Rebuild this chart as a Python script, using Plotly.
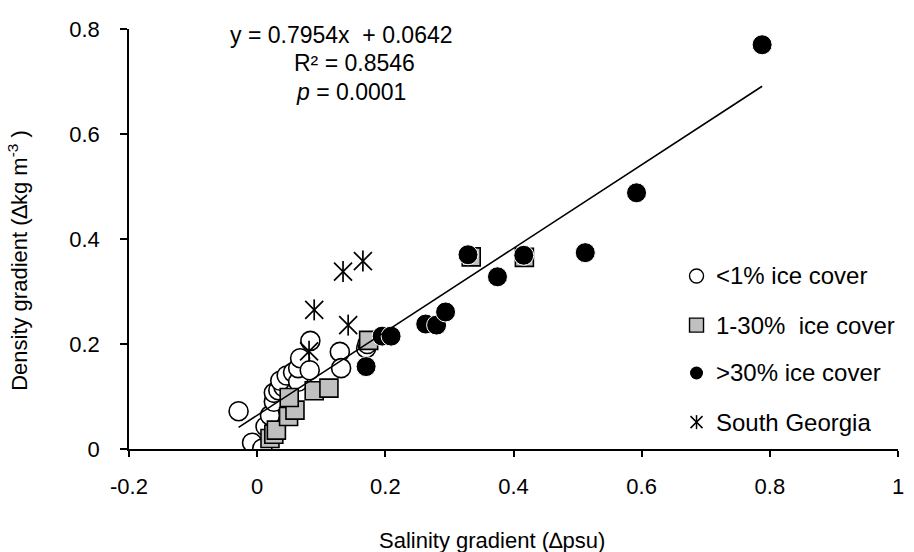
import plotly.graph_objects as go

# Salinity gradient (x) vs density gradient (y), by ice-cover class
low_ice_x = [-0.029, -0.008, 0.008, 0.013, 0.028, 0.020, 0.026, 0.026, 0.033, 0.041, 0.036,
             0.046, 0.056, 0.064, 0.064, 0.067, 0.082, 0.083, 0.129, 0.131, 0.170, 0.172]
low_ice_y = [0.072, 0.012, 0.001, 0.043, 0.049, 0.064, 0.090, 0.107, 0.112, 0.118, 0.130,
             0.140, 0.146, 0.128, 0.154, 0.173, 0.150, 0.206, 0.185, 0.154, 0.192, 0.200]

mid_ice_x = [0.020, 0.026, 0.030, 0.049, 0.059, 0.050, 0.089, 0.112, 0.174, 0.334, 0.417]
mid_ice_y = [0.020, 0.028, 0.036, 0.062, 0.074, 0.098, 0.111, 0.116, 0.207, 0.366, 0.365]

high_ice_x = [0.170, 0.195, 0.209, 0.263, 0.280, 0.294, 0.329, 0.375, 0.416, 0.512, 0.592, 0.788]
high_ice_y = [0.157, 0.215, 0.215, 0.238, 0.236, 0.261, 0.370, 0.328, 0.369, 0.374, 0.488, 0.770]

sg_x = [0.081, 0.089, 0.134, 0.142, 0.165]
sg_y = [0.186, 0.265, 0.338, 0.236, 0.358]

# Linear fit reported on the chart
slope = 0.7954
intercept = 0.0642
r_squared = 0.8546
p_value = "0.0001"

x_ticks = [-0.2, 0, 0.2, 0.4, 0.6, 0.8, 1]
x_tick_text = ["-0.2", "0", "0.2", "0.4", "0.6", "0.8", "1"]
y_ticks = [0, 0.2, 0.4, 0.6, 0.8]
y_tick_text = ["0", "0.2", "0.4", "0.6", "0.8"]

legend_names = ["<1% ice cover", "1-30%  ice cover", ">30% ice cover", "South Georgia"]

FONT = "Liberation Sans, Arial, sans-serif"
W, H = 914, 552
L, R, T, B = 129, 10, 29, 103

fig = go.Figure()

fig.add_trace(go.Scatter(
    x=low_ice_x, y=low_ice_y, mode="markers", name=legend_names[0],
    marker=dict(symbol="circle", size=19, color="white", line=dict(color="black", width=1.6)),
))
fig.add_trace(go.Scatter(
    x=mid_ice_x, y=mid_ice_y, mode="markers", name=legend_names[1],
    marker=dict(symbol="square", size=18, color="#c0c0c0", line=dict(color="black", width=1.6)),
))
fig.add_trace(go.Scatter(
    x=high_ice_x, y=high_ice_y, mode="markers", name=legend_names[2],
    marker=dict(symbol="circle", size=20, color="black", line=dict(color="white", width=1)),
))
# Six-armed star: diagonal cross plus a vertical stroke
fig.add_trace(go.Scatter(
    x=sg_x, y=sg_y, mode="markers", name=legend_names[3],
    marker=dict(symbol="x-thin-open", size=18, color="black", line=dict(color="black", width=1.7)),
))
fig.add_trace(go.Scatter(
    x=sg_x, y=sg_y, mode="markers", showlegend=False,
    marker=dict(symbol="line-ns-open", size=15, color="black", line=dict(color="black", width=1.7)),
))

# Trend line across the range of all observations
all_x = low_ice_x + mid_ice_x + high_ice_x + sg_x
fit_x = [min(all_x), max(all_x)]
fit_y = [slope * v + intercept for v in fit_x]
fig.add_trace(go.Scatter(
    x=fit_x, y=fit_y, mode="lines", showlegend=False,
    line=dict(color="black", width=1.6),
))

# Hand-placed legend on an overlay axis in paper units
leg_x = 0.738
leg_y = [0.412, 0.295, 0.181, 0.064]
legend_markers = [
    dict(symbol="circle", size=14, color="white", line=dict(color="black", width=1.4)),
    dict(symbol="square", size=14, color="#c0c0c0", line=dict(color="black", width=1.4)),
    dict(symbol="circle", size=13, color="black", line=dict(color="white", width=0)),
]
for yy, mk in zip(leg_y[:3], legend_markers):
    fig.add_trace(go.Scatter(x=[leg_x], y=[yy], mode="markers", marker=mk,
                             xaxis="x2", yaxis="y2", showlegend=False, hoverinfo="skip"))
fig.add_trace(go.Scatter(x=[leg_x], y=[leg_y[3]], mode="markers", xaxis="x2", yaxis="y2",
                         showlegend=False, hoverinfo="skip",
                         marker=dict(symbol="x-thin-open", size=12, color="black",
                                     line=dict(color="black", width=1.5))))
fig.add_trace(go.Scatter(x=[leg_x], y=[leg_y[3]], mode="markers", xaxis="x2", yaxis="y2",
                         showlegend=False, hoverinfo="skip",
                         marker=dict(symbol="line-ns-open", size=10, color="black",
                                     line=dict(color="black", width=1.5))))

annotations = []
for yy, name in zip(leg_y, legend_names):
    annotations.append(dict(x=0.761, y=yy, xref="paper", yref="paper", text=name.replace("<", "&lt;"),
                            showarrow=False, xanchor="left", yanchor="middle",
                            font=dict(family=FONT, size=24, color="black")))

# Regression statistics
eq_lines = [
    (f"y = {slope}x  + {intercept:.4f}", 343, 35),
    (f"R² = {r_squared}", 356.5, 63),
    (f"<i>p</i> = {p_value}", 353, 92),
]
for txt, px, py in eq_lines:
    annotations.append(dict(x=(px - L) / (W - L - R), y=(H - B - py) / (H - T - B),
                            xref="paper", yref="paper", text=txt, showarrow=False,
                            xanchor="center", yanchor="middle",
                            font=dict(family=FONT, size=23, color="black")))

# Axis titles
annotations.append(dict(x=(495 - L) / (W - L - R), y=(H - B - 540) / (H - T - B),
                        xref="paper", yref="paper", text="Salinity gradient (∆psu)",
                        showarrow=False, xanchor="center", yanchor="middle",
                        font=dict(family=FONT, size=22, color="black")))
annotations.append(dict(x=(17 - L) / (W - L - R), y=(H - B - 260) / (H - T - B),
                        xref="paper", yref="paper", text="Density gradient (∆kg m<sup>-3</sup> )",
                        showarrow=False, xanchor="center", yanchor="middle", textangle=-90,
                        font=dict(family=FONT, size=22, color="black")))

fig.update_layout(
    width=W, height=H,
    margin=dict(l=L, r=R, t=T, b=B),
    paper_bgcolor="white", plot_bgcolor="white",
    showlegend=False,
    font=dict(family=FONT, size=22, color="black"),
    annotations=annotations,
    xaxis=dict(range=[-0.2, 1], tickvals=x_ticks, ticktext=x_tick_text,
               showgrid=False, zeroline=False, showline=True, linecolor="black", linewidth=1.6,
               ticks="outside", ticklen=6, tickwidth=1.6, tickcolor="black",
               ticklabelstandoff=11, tickfont=dict(family=FONT, size=22)),
    yaxis=dict(range=[0, 0.8], tickvals=y_ticks, ticktext=y_tick_text,
               showgrid=False, zeroline=False, showline=True, linecolor="black", linewidth=1.6,
               ticks="outside", ticklen=7, tickwidth=1.6, tickcolor="black",
               ticklabelstandoff=16, tickfont=dict(family=FONT, size=22)),
    xaxis2=dict(range=[0, 1], overlaying="x", visible=False, fixedrange=True),
    yaxis2=dict(range=[0, 1], overlaying="y", visible=False, fixedrange=True),
)

fig.write_html("out.html")
